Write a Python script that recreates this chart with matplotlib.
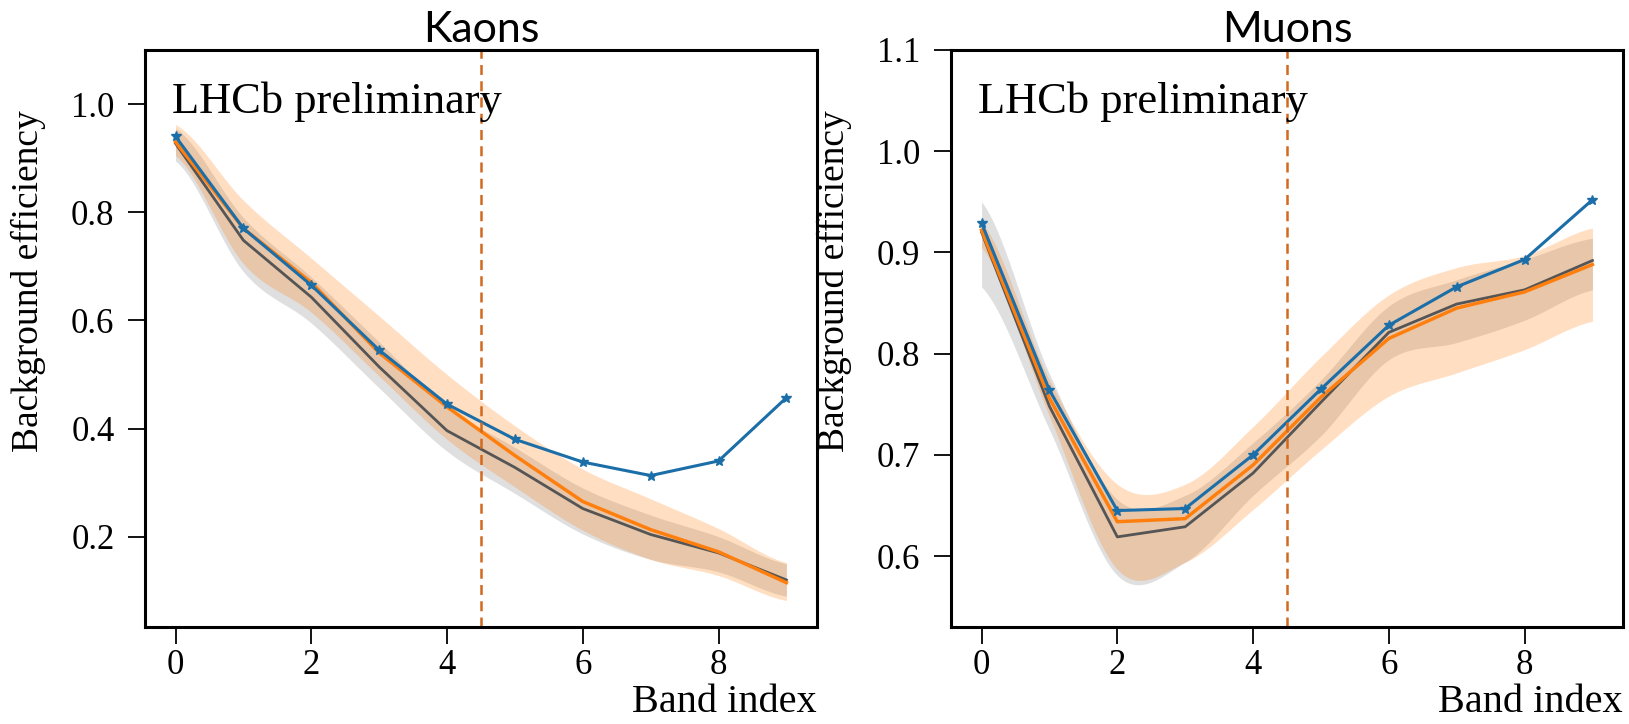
import numpy as np
import matplotlib
matplotlib.use("Agg")
import matplotlib.pyplot as plt

# ---------------- data ----------------
band_index = [0, 1, 2, 3, 4, 5, 6, 7, 8, 9]

# Kaons
kaon_data = [0.94, 0.77, 0.665, 0.545, 0.445, 0.38, 0.338, 0.313, 0.34, 0.457]
kaon_pred = [0.93, 0.770, 0.670, 0.540, 0.440, 0.350, 0.265, 0.213, 0.172, 0.115]
kaon_pred_hi = [0.962, 0.822, 0.715, 0.608, 0.500, 0.405, 0.325, 0.270, 0.215, 0.152]
kaon_pred_lo = [0.905, 0.705, 0.615, 0.497, 0.380, 0.292, 0.212, 0.158, 0.128, 0.082]
kaon_ref = [0.927, 0.748, 0.643, 0.514, 0.396, 0.328, 0.252, 0.204, 0.170, 0.120]
kaon_ref_hi = [0.955, 0.790, 0.680, 0.560, 0.440, 0.365, 0.290, 0.240, 0.200, 0.150]
kaon_ref_lo = [0.895, 0.690, 0.595, 0.475, 0.358, 0.280, 0.205, 0.158, 0.135, 0.090]

# Muons
muon_data = [0.929, 0.764, 0.645, 0.647, 0.700, 0.765, 0.828, 0.866, 0.893, 0.952]
muon_pred = [0.922, 0.756, 0.634, 0.637, 0.690, 0.757, 0.815, 0.845, 0.861, 0.888]
muon_pred_hi = [0.930, 0.774, 0.671, 0.671, 0.728, 0.797, 0.858, 0.885, 0.897, 0.924]
muon_pred_lo = [0.905, 0.738, 0.587, 0.594, 0.646, 0.705, 0.758, 0.781, 0.804, 0.832]
muon_ref = [0.920, 0.748, 0.619, 0.629, 0.682, 0.752, 0.821, 0.849, 0.863, 0.892]
muon_ref_hi = [0.950, 0.780, 0.656, 0.660, 0.712, 0.774, 0.847, 0.873, 0.893, 0.914]
muon_ref_lo = [0.866, 0.725, 0.581, 0.594, 0.660, 0.719, 0.794, 0.811, 0.833, 0.863]

titles = ["Kaons", "Muons"]
cut_position = 4.5
ylims = [(0.033, 1.1), (0.53, 1.1)]
yticks = [[0.2, 0.4, 0.6, 0.8, 1.0], [0.6, 0.7, 0.8, 0.9, 1.0, 1.1]]
xticks = [0, 2, 4, 6, 8]


def smooth(x, y, n=24):
    """Catmull-Rom rendering of a band edge through the given points."""
    x = np.asarray(x, float)
    y = np.asarray(y, float)
    xs, ys = [], []
    m = len(x)
    for i in range(m - 1):
        p0 = y[max(i - 1, 0)]
        p1 = y[i]
        p2 = y[i + 1]
        p3 = y[min(i + 2, m - 1)]
        t = np.linspace(0, 1, n, endpoint=False)
        yy = 0.5 * ((2 * p1) + (-p0 + p2) * t + (2 * p0 - 5 * p1 + 4 * p2 - p3) * t ** 2
                    + (-p0 + 3 * p1 - 3 * p2 + p3) * t ** 3)
        xs.append(x[i] + (x[i + 1] - x[i]) * t)
        ys.append(yy)
    xs.append([x[-1]])
    ys.append([y[-1]])
    return np.concatenate(xs), np.concatenate(ys)


serif = ["Liberation Serif", "DejaVu Serif"]
plt.rcParams["font.family"] = serif

fig = plt.figure(figsize=(16.29, 7.24), dpi=100)
ax_pos = [[0.089, 0.134, 0.4125, 0.797], [0.5838, 0.134, 0.4125, 0.797]]

panels = [
    (kaon_data, kaon_pred, kaon_pred_hi, kaon_pred_lo, kaon_ref, kaon_ref_hi, kaon_ref_lo),
    (muon_data, muon_pred, muon_pred_hi, muon_pred_lo, muon_ref, muon_ref_hi, muon_ref_lo),
]

blue = "#1b6ea8"
orange = "#ff7f0e"
greyline = "#555555"

for k, (data, pred, phi, plo, ref, rhi, rlo) in enumerate(panels):
    ax = fig.add_axes(ax_pos[k])
    # grey reference band
    xs, yhi = smooth(band_index, rhi)
    _, ylo = smooth(band_index, rlo)
    ax.fill_between(xs, ylo, yhi, color="#808080", alpha=0.25, lw=0)
    # orange prediction band
    xs, yhi = smooth(band_index, phi)
    _, ylo = smooth(band_index, plo)
    ax.fill_between(xs, ylo, yhi, color=orange, alpha=0.25, lw=0)

    ax.plot(band_index, ref, color=greyline, lw=2.0)
    ax.plot(band_index, pred, color=orange, lw=2.5)
    ax.plot(band_index, data, color=blue, lw=2.2, marker="*", markersize=7)

    ax.axvline(cut_position, color="#d2691e", lw=1.8, ls=(0, (4, 2.5)))

    ax.set_xlim(-0.45, 9.45)
    ax.set_ylim(*ylims[k])
    ax.set_xticks(xticks)
    ax.set_yticks(yticks[k])
    ax.yaxis.set_major_formatter(matplotlib.ticker.FormatStrFormatter("%.1f"))
    ax.tick_params(axis="both", direction="out", length=12, width=1.3,
                   labelsize=25, pad=10, colors="black")
    ax.tick_params(axis="x", pad=4)
    for sp in ax.spines.values():
        sp.set_linewidth(2.2)
        sp.set_color("black")

    ax.set_ylabel("Background efficiency", fontsize=27)
    ax.yaxis.set_label_coords(-0.148, 0.60)
    ax.set_xlabel("Band index", fontsize=29, loc="right", labelpad=1)
    ax.set_title(titles[k], fontsize=31, family=["Lato", "DejaVu Sans"], pad=6)
    ax.text(0.04, 0.945, "LHCb preliminary", transform=ax.transAxes,
            fontsize=32, va="top", ha="left")

fig.savefig("out.png", dpi=100)
